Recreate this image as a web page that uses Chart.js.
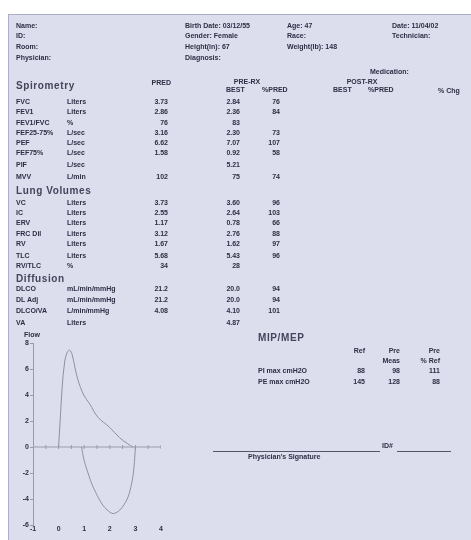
<!DOCTYPE html>
<html>
<head>
<meta charset="utf-8">
<script src="https://cdn.jsdelivr.net/npm/chart.js@4"></script>
<style>
  body { margin: 0; width: 471px; height: 540px; overflow: hidden; background: #fff; font-family: "Liberation Sans", Arial, sans-serif; }
  #page { position: absolute; left: 8px; top: 14px; width: 463px; height: 526px; background: #dcdeee; border-left: 1px solid #aab0c8; border-top: 1px solid #aab0c8; }
  .t { position: absolute; font-size: 7px; font-weight: bold; color: #2e2e44; white-space: nowrap; line-height: 8px; filter: blur(0.3px); }
  .h { font-size: 10px; letter-spacing: 0.6px; line-height: 11px; margin-top: -1px; color: #44445a; }
  .r { transform: translateX(-100%); }
  .c { transform: translateX(-50%); }
  .line { position: absolute; height: 1px; background: #55556a; }
</style>
</head>
<body>
<div id="page"></div>
<canvas id="loopChart" width="175" height="225" style="position:absolute;left:0;top:330px"></canvas>
<div class="line" style="left:213px;top:451px;width:167px"></div>
<div class="line" style="left:397px;top:451px;width:54px"></div>

<script>
// Flow-volume loop (volume in L, flow in L/s)
const expVolume = [0, 0.06, 0.14, 0.24, 0.34, 0.43, 0.53, 0.64, 0.75, 0.98, 1.22, 1.53, 2.0, 2.39, 2.7, 2.9];
const expFlow   = [0, 2.0, 4.6, 6.6, 7.3, 7.45, 7.1, 6.1, 5.2, 4.0, 3.3, 2.3, 1.5, 0.7, 0.25, 0];
const inspVolume = [0.9, 0.95, 1.02, 1.15, 1.29, 1.45, 1.61, 1.8, 2.0, 2.12, 2.25, 2.39, 2.55, 2.71, 2.82, 2.9, 2.96, 3.0];
const inspFlow   = [0, -0.6, -1.2, -2.0, -2.8, -3.5, -4.1, -4.65, -5.0, -5.12, -5.05, -4.85, -4.45, -3.85, -3.1, -2.3, -1.2, 0];
const volumeTicks = [-1, -0.5, 0, 0.5, 1, 1.5, 2, 2.5, 3, 3.5, 4];

// Report text
const header = [
  ['Name:', 16, 26], ['ID:', 16, 36], ['Room:', 16, 47], ['Physician:', 16, 58],
  ['Birth Date: 03/12/55', 185, 26], ['Gender: Female', 185, 36], ['Height(in): 67', 185, 47], ['Diagnosis:', 185, 58],
  ['Age: 47', 287, 26], ['Race:', 287, 36], ['Weight(lb): 148', 287, 47],
  ['Date: 11/04/02', 392, 26], ['Technician:', 392, 36],
  ['Medication:', 370, 72]
];
const spiroRows = [
  ['FVC', 'Liters', '3.73', '2.84', '76'],
  ['FEV1', 'Liters', '2.86', '2.36', '84'],
  ['FEV1/FVC', '%', '76', '83', ''],
  ['FEF25-75%', 'L/sec', '3.16', '2.30', '73'],
  ['PEF', 'L/sec', '6.62', '7.07', '107'],
  ['FEF75%', 'L/sec', '1.58', '0.92', '58'],
  ['PIF', 'L/sec', '', '5.21', ''],
  ['MVV', 'L/min', '102', '75', '74']
];
const spiroY = [102, 112, 123, 133, 143, 153, 165, 177];
const lungRows = [
  ['VC', 'Liters', '3.73', '3.60', '96'],
  ['IC', 'Liters', '2.55', '2.64', '103'],
  ['ERV', 'Liters', '1.17', '0.78', '66'],
  ['FRC Dil', 'Liters', '3.12', '2.76', '88'],
  ['RV', 'Liters', '1.67', '1.62', '97'],
  ['TLC', 'Liters', '5.68', '5.43', '96'],
  ['RV/TLC', '%', '34', '28', '']
];
const lungY = [203, 213, 223, 234, 244, 256, 266];
const diffRows = [
  ['DLCO', 'mL/min/mmHg', '21.2', '20.0', '94'],
  ['DL Adj', 'mL/min/mmHg', '21.2', '20.0', '94'],
  ['DLCO/VA', 'L/min/mmHg', '4.08', '4.10', '101'],
  ['VA', 'Liters', '', '4.87', '']
];
const diffY = [289, 300, 311, 323];
const mipRows = [
  ['PI max  cmH2O', '88', '98', '111'],
  ['PE max cmH2O', '145', '128', '88']
];

function put(text, x, y, cls) {
  const d = document.createElement('div');
  d.className = 't' + (cls ? ' ' + cls : '');
  d.textContent = text;
  d.style.left = x + 'px';
  d.style.top = (y - 4) + 'px';
  document.body.appendChild(d);
}

header.forEach(h => put(h[0], h[1], h[2]));

put('Spirometry', 16, 85, 'h');
put('PRED', 171, 83, 'r');
put('PRE-RX', 247, 82, 'c');
put('BEST', 226, 90);
put('%PRED', 262, 90);
put('POST-RX', 362, 82, 'c');
put('BEST', 333, 90);
put('%PRED', 368, 90);
put('% Chg', 438, 91);

function rows(list, ys) {
  list.forEach((r, i) => {
    put(r[0], 16, ys[i]);
    put(r[1], 67, ys[i]);
    put(r[2], 168, ys[i], 'r');
    put(r[3], 240, ys[i], 'r');
    put(r[4], 280, ys[i], 'r');
  });
}
rows(spiroRows, spiroY);
put('Lung Volumes', 16, 190, 'h');
rows(lungRows, lungY);
put('Diffusion', 16, 278, 'h');
rows(diffRows, diffY);

put('Flow', 24, 335);

put('MIP/MEP', 258, 337, 'h');
put('Ref', 365, 351, 'r');
put('Pre', 400, 351, 'r');
put('Meas', 400, 361, 'r');
put('Pre', 440, 351, 'r');
put('% Ref', 440, 361, 'r');
mipRows.forEach((r, i) => {
  const y = 371 + i * 11;
  put(r[0], 258, y);
  put(r[1], 365, y, 'r');
  put(r[2], 400, y, 'r');
  put(r[3], 440, y, 'r');
});
put('ID#', 382, 446);
put("Physician's Signature", 248, 457);

// Chart
const toPts = (xs, ys) => xs.map((v, i) => ({ x: v, y: ys[i] }));
const curveColor = '#8e8ea0';
const tickFont = { size: 7, weight: 'bold', family: 'Liberation Sans' };

const ctx = document.getElementById('loopChart').getContext('2d');
new Chart(ctx, {
  type: 'scatter',
  data: {
    datasets: [
      { data: toPts(expVolume, expFlow), showLine: true, borderColor: curveColor, borderWidth: 1, pointRadius: 0, tension: 0.35 },
      { data: toPts(inspVolume, inspFlow), showLine: true, borderColor: curveColor, borderWidth: 1, pointRadius: 0, tension: 0.4 },
      { data: volumeTicks.map(v => ({ x: v, y: 0 })), showLine: true, borderColor: '#9a9aac', borderWidth: 1,
        pointStyle: 'line', rotation: 90, pointRadius: 2, pointBorderColor: '#9a9aac' }
    ]
  },
  options: {
    responsive: false,
    animation: false,
    layout: { padding: { top: 13, right: 14, left: 0, bottom: 0 } },
    plugins: { legend: { display: false }, tooltip: { enabled: false } },
    scales: {
      x: {
        type: 'linear', min: -1, max: 4,
        grid: { display: false, drawTicks: false },
        border: { display: false },
        ticks: { stepSize: 1, color: '#2e2e44', font: tickFont, padding: 0 },
        title: { display: true, text: 'Volume', color: '#2e2e44', font: tickFont, padding: { top: 0, bottom: 0 } },
        afterFit: s => { s.height = 30; }
      },
      y: {
        min: -6, max: 8,
        grid: { drawOnChartArea: false, tickLength: 3, color: '#9a9aac' },
        border: { color: '#9a9aac' },
        ticks: { stepSize: 2, color: '#2e2e44', font: tickFont, padding: 1 },
        afterFit: s => { s.width = 33; }
      }
    }
  }
});
</script>
</body>
</html>
